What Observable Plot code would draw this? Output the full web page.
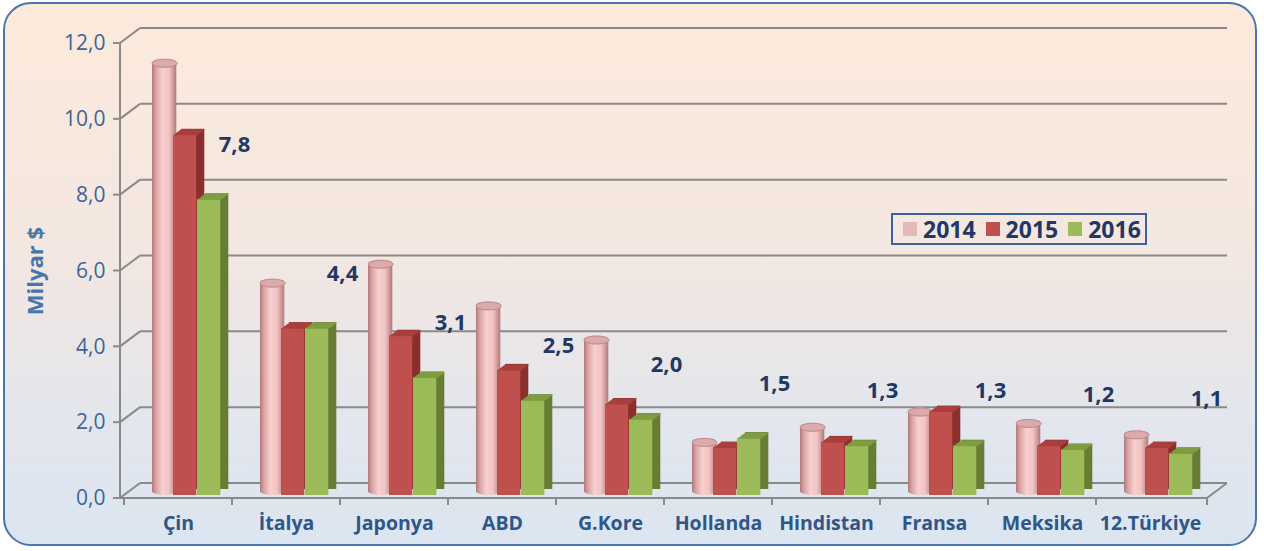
<!DOCTYPE html>
<html><head><meta charset="utf-8">
<script src="https://cdn.jsdelivr.net/npm/d3@7"></script>
<script src="https://cdn.jsdelivr.net/npm/@observablehq/plot@0.6"></script>
<style>
html,body{margin:0;padding:0;background:#fff;}
#wrap{position:relative;width:1264px;height:551px;overflow:hidden;}
#bg{position:absolute;left:3px;top:2px;width:1250px;height:540px;border:2.5px solid #4a76ad;border-radius:28px;
  background:linear-gradient(180deg,#fdeadb 0%,#f3e7e1 45%,#e4e6ec 75%,#dbe5f1 100%);}
#chart{position:absolute;left:0;top:0;}
#legend{position:absolute;left:891px;top:213px;width:252px;height:28px;border:2px solid #3a63a0;
  display:flex;align-items:center;font-family:"Open Sans",sans-serif;font-weight:bold;font-size:23px;color:#1f3864;overflow:hidden;white-space:nowrap;}
#legend .sw{display:inline-block;flex:none;width:14px;height:14px;margin:0 6px 0 10px;}
</style></head>
<body>
<div id="wrap"><div id="bg"></div><div id="chart"></div>
<div id="legend"></div></div>
<script>
const countries = ["Çin","İtalya","Japonya","ABD","G.Kore","Hollanda","Hindistan","Fransa","Meksika","12.Türkiye"];
const years = ["2014","2015","2016"];
const v2014 = [11.4, 5.6, 6.1, 5.0, 4.1, 1.4, 1.8, 2.2, 1.9, 1.6];
const v2015 = [9.5, 4.4, 4.2, 3.3, 2.4, 1.25, 1.4, 2.2, 1.3, 1.25];
const v2016 = [7.8, 4.4, 3.1, 2.5, 2.0, 1.5, 1.3, 1.3, 1.2, 1.1];
const yTicks = [0, 2, 4, 6, 8, 10, 12];
const colors = {"2014": "#e6b8b7", "2015": "#c0504d", "2016": "#9bbb59"};

const fmt = v => v.toFixed(1).replace(".", ",");
const FONT = "Open Sans";

function frame3d(index, scales, values, dims) {
  const {x, y} = scales;
  const g = d3.create("svg:g");
  const defs = g.append("defs");
  const grad = defs.append("linearGradient").attr("id", "cyl").attr("x1", "0").attr("x2", "1").attr("y1", "0").attr("y2", "0");
  [[0, "#b07878"], [0.15, "#d9a0a0"], [0.42, "#f7cfcf"], [0.7, "#f3c4c4"], [1, "#b27a7a"]]
    .forEach(([o, c]) => grad.append("stop").attr("offset", o).attr("stop-color", c));
  const L = dims.marginLeft, R = dims.width - dims.marginRight;
  const DX = 20, DY = -15;
  const line = (x1, y1, x2, y2, c = "#8a8a8a", w = 2) =>
    g.append("line").attr("x1", x1).attr("y1", y1).attr("x2", x2).attr("y2", y2)
      .attr("stroke", c).attr("stroke-width", w);
  for (const t of yTicks) {
    const py = y(t);
    line(L + DX, py + DY, R + DX, py + DY);
    line(L, py, L + DX, py + DY);
    line(L - 7, py, L, py);
  }
  line(L, y(0), L, y(12));
  line(L, y(0), R, y(0));
  line(R, y(0), R + DX, y(0) + DY);
  for (const c of countries) line(x(c), y(0), x(c), y(0) + 7);
  line(R, y(0), R, y(0) + 7);
  return g.node();
}

// shapes for the 3D look
const K = 0.5523;
const capSymbol = {draw(c) {
  const a = 12.5, b = 4;
  c.moveTo(a, 0);
  c.bezierCurveTo(a, b * K, a * K, b, 0, b);
  c.bezierCurveTo(-a * K, b, -a, b * K, -a, 0);
  c.bezierCurveTo(-a, -b * K, -a * K, -b, 0, -b);
  c.bezierCurveTo(a * K, -b, a, -b * K, a, 0);
  c.closePath();
}};
const topSymbol = {draw(c) {
  c.moveTo(-12, 0); c.lineTo(12, 0); c.lineTo(20, -6); c.lineTo(-4, -6); c.closePath();
}};

const bw = (1264 - 120 - 57) / countries.length;
const val = arr => (d, i) => arr[i];

const plot = Plot.plot({
  width: 1264, height: 551,
  marginLeft: 120, marginRight: 57, marginTop: 43, marginBottom: 53,
  style: {background: "transparent", fontFamily: FONT, overflow: "visible"},
  x: {domain: countries, padding: 0, axis: null},
  y: {domain: [0, 12], axis: null},
  marks: [
    frame3d,
    // 2014 cylinders
    Plot.barY(countries, {x: d => d, y: val(v2014), fill: "url(#cyl)", insetLeft: 28, insetRight: bw - 53, insetTop: -4, dy: -3, rx: 12.5, ry: 4}),
    Plot.dot(countries, {x: d => d, y: val(v2014), symbol: capSymbol, fill: "#dcaaaa", stroke: "#b98a8a", strokeWidth: 1, dx: 28 + 12.5 - bw / 2, dy: -3}),
    // 2015 side + front + top
    Plot.barY(countries, {x: d => d, y: val(v2015), fill: "#8a2f2c", insetLeft: 49, insetRight: bw - 73, dx: 8, dy: -9}),
    Plot.barY(countries, {x: d => d, y: val(v2015), fill: colors["2015"], insetLeft: 49, insetRight: bw - 73, dy: -3}),
    Plot.dot(countries, {x: d => d, y: val(v2015), symbol: topSymbol, fill: "#a83f3c", stroke: "none", dx: 49 + 12 - bw / 2, dy: -3}),
    // 2016 side + front + top
    Plot.barY(countries, {x: d => d, y: val(v2016), fill: "#667d33", insetLeft: 73, insetRight: bw - 97, dx: 8, dy: -9}),
    Plot.barY(countries, {x: d => d, y: val(v2016), fill: colors["2016"], insetLeft: 73, insetRight: bw - 97, dy: -3}),
    Plot.dot(countries, {x: d => d, y: val(v2016), symbol: topSymbol, fill: "#7f9c40", stroke: "none", dx: 73 + 12 - bw / 2, dy: -3}),
    // value labels (2016)
    Plot.text(countries, {x: d => d, y: val(v2016), text: (d, i) => fmt(v2016[i]), dx: 56, dy: -58,
      fontSize: 22, fontWeight: "bold", fill: "#1f3864"}),
    // y tick labels
    Plot.text(yTicks, {y: d => d, text: d => fmt(d), frameAnchor: "left", textAnchor: "end", dx: -15,
      fontSize: 21, fill: "#3e6596"}),
    // x labels
    Plot.text(countries, {x: d => d, text: d => d, frameAnchor: "bottom", dy: 31,
      fontSize: 19.5, fontWeight: "bold", fill: "#2e5689"}),
    // y title
    Plot.text(["Milyar $"], {text: d => d, frameAnchor: "left", textAnchor: "middle", rotate: -90, dx: -85,
      fontSize: 22, fontWeight: "bold", fill: "#4776ad"})
  ]
});
document.getElementById("chart").appendChild(plot);

const leg = d3.select("#legend");
years.forEach(yr => {
  leg.append("span").attr("class", "sw").style("background", colors[yr]);
  leg.append("span").text(yr);
});
</script>
</body></html>
